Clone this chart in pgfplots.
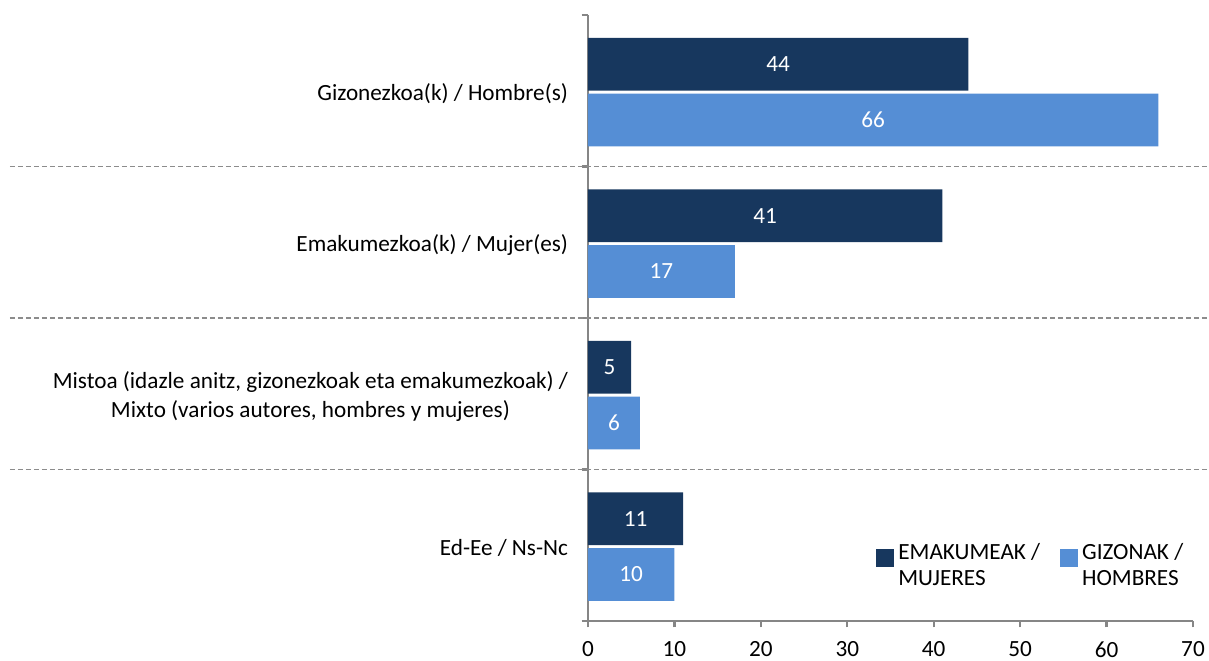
\documentclass[border=0pt]{standalone}
\usepackage{fontspec}
\setmainfont{Carlito}
\usepackage{pgfplots}
\pgfplotsset{compat=1.18}
\definecolor{darkbar}{HTML}{17375E}
\definecolor{lightbar}{HTML}{558ED5}
\definecolor{axisgray}{HTML}{868686}
\definecolor{dashgray}{HTML}{8C8C8C}

\begin{document}
\begin{tikzpicture}[font=\fontsize{11.6bp}{13bp}\selectfont]
\useasboundingbox (-294bp,-20bp) rectangle (310.5bp,310.5bp);
\begin{axis}[
  at={(0,0)}, anchor=south west,
  scale only axis, width=302.5bp, height=303bp,
  xbar, bar width=0.347,
  xmin=0, xmax=70, ymin=-0.5, ymax=3.5, y dir=reverse,
  clip=false,
  axis x line*=bottom, axis y line*=left,
  axis line style={axisgray, line width=1.1bp, -},
  tick style={axisgray, line width=1.1bp},
  tick align=outside, major tick length=3.2bp,
  xtick={0,10,...,70},
  ytick={-0.5,0.5,1.5,2.5,3.5}, yticklabels={},
  extra y ticks={0,1,2,3},
  extra y tick labels={Gizonezkoa(k) / Hombre(s),Emakumezkoa(k) / Mujer(es),{Mistoa (idazle anitz, gizonezkoak eta emakumezkoak) /\\Mixto (varios autores, hombres y mujeres)},Ed-Ee / Ns-Nc},
  extra y tick style={major tick length=0pt},
  yticklabel style={align=center, font=\fontsize{11.6bp}{14.5bp}\selectfont, xshift=-6.5bp, yshift=-1.5bp},
  xticklabel style={yshift=-3.5bp},
  /pgf/number format/assume math mode=true,
  nodes near coords,
  visualization depends on=rawx \as \rawx,
  every node near coord/.append style={white, anchor=center,
    shift={(axis direction cs:-\rawx/2,0)}},
  legend style={at={(0.476,0.135)}, anchor=north west, draw=none, fill=none,
    inner sep=0pt, cells={align=left},
    /tikz/every even column/.append style={column sep=8bp}},
  legend columns=2,
  legend image code/.code={\draw[#1,draw=none] (0bp,-0.5bp) rectangle (9bp,8.5bp);},
]
\addplot[fill=darkbar, draw=none, bar shift=-0.175] coordinates {(44,0) (41,1) (5,2) (11,3)};
\addlegendentry{EMAKUMEAK /\\MUJERES}
\addplot[fill=lightbar, draw=none, bar shift=0.193] coordinates {(66,0) (17,1) (6,2) (10,3)};
\addlegendentry{GIZONAK /\\HOMBRES}
\pgfplotsinvokeforeach{0.5,1.5,2.5}{
  \draw[dashgray, line width=0.6bp, dash pattern=on 2.5bp off 1.5bp]
    (axis cs:-66.9,#1) -- (axis cs:71.85,#1);
}
\end{axis}
\end{tikzpicture}
\end{document}
